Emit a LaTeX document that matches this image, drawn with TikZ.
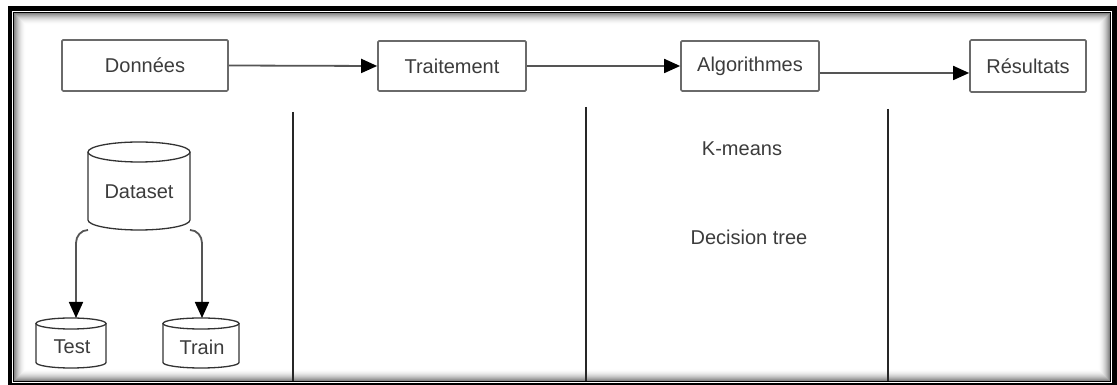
\documentclass[tikz,border=0pt]{standalone}
\usepackage{fontspec}
\setmainfont{Liberation Sans}
\usetikzlibrary{arrows.meta}
\definecolor{boxline}{HTML}{6A6A6A}
\definecolor{txt}{HTML}{3C3C3C}
\definecolor{connline}{HTML}{555555}
% cylinder outline around an invisible node: #1 node, #2 half width, #3 ellipse radius
\newcommand\drawcyl[3]{%
  \draw[cylline] ([yshift=-#3]#1.north west) -- ([yshift=#3]#1.south west)
    arc[start angle=180,end angle=360,x radius=#2,y radius=#3]
    -- ([yshift=-#3]#1.north east);
  \draw[cylline] ([yshift=-#3]#1.north) ellipse[x radius=#2,y radius=#3];}
\begin{document}
\begin{tikzpicture}[x=1pt,y=1pt,
  stage/.style={draw=boxline, line width=1.7pt, rounded corners=1.2pt, fill=white,
    text=txt, font=\fontsize{20}{24}\selectfont, inner sep=0pt},
  lbl/.style={text=txt, font=\fontsize{20}{24}\selectfont, inner sep=0pt},
  flow/.style={draw=connline, line width=1.8pt,
    -{Triangle[length=16pt,width=14pt,color=black]}},
  lane/.style={draw=black!85, line width=1.4pt},
  cylbody/.style={draw=none, inner sep=0pt, outer sep=0pt},
  cylline/.style={draw=black!80, line width=1.3pt}
]
\useasboundingbox (0,0) rectangle (1117,385);
\fill[white] (0,0) rectangle (1117,385);

% double frame with inset shadow
\fill[black] (8,0) rectangle (1117,379);
\fill[white] (12,2) rectangle (1112,374);
\draw[black, line width=1.5pt] (13.5,3.5) rectangle (1110.5,372.5);
\foreach \i in {0,...,11}{
  \pgfmathsetmacro\shade{(12-\i)*(12-\i)/3}
  \draw[black!\shade, line width=1pt]
    (14.75+\i,4.75+\i) rectangle (1109.25-\i,371.25-\i);
}

% stage boxes
\node[stage, minimum width=166pt, minimum height=51pt] (don) at (145,319.5) {Données};
\node[stage, minimum width=148pt, minimum height=50pt] (tra) at (452,319) {Traitement};
\node[stage, minimum width=138pt, minimum height=50pt] (alg) at (750,319) {Algorithmes};
\node[stage, minimum width=116pt, minimum height=52pt] (res) at (1028,319) {Résultats};

\draw[flow] (don.east) -- (tra.west);
\draw[flow] (tra.east) -- (alg.west);
\draw[flow] ([yshift=-7pt]alg.east) -- ([yshift=-7pt]res.west);

% lane separators
\draw[lane] (293,273) -- (293,3.5);
\draw[lane] (586,278) -- (586,3.5);
\draw[lane] (888,276) -- (888,3.5);

% algorithm names
\node[lbl] (km) at (742,236) {K-means};
\node[lbl] (dt) at (749,148) {Decision tree};

% data stores
\node[cylbody, minimum width=102pt, minimum height=88pt] (ds) at (139,199) {};
\drawcyl{ds}{51pt}{10pt}
\node[lbl] (dslbl) at (139,193) {Dataset};

\node[cylbody, minimum width=70pt, minimum height=50pt] (tst) at (71,42) {};
\drawcyl{tst}{35pt}{5.5pt}
\node[lbl] (tstlbl) at (72,38) {Test};

\node[cylbody, minimum width=76pt, minimum height=50pt] (trn) at (201,42) {};
\drawcyl{trn}{38pt}{5.5pt}
\node[lbl] (trnlbl) at (202,38) {Train};

\coordinate (bl) at ([shift={(-12pt,-13pt)}]ds.south west);
\coordinate (br) at ([shift={(12pt,-13pt)}]ds.south east);
\draw[flow] (ds.south west) to[out=180,in=90] (bl) -- (bl |- tst.north);
\draw[flow] (ds.south east) to[out=0,in=90] (br) -- (br |- trn.north);
\end{tikzpicture}
\end{document}
